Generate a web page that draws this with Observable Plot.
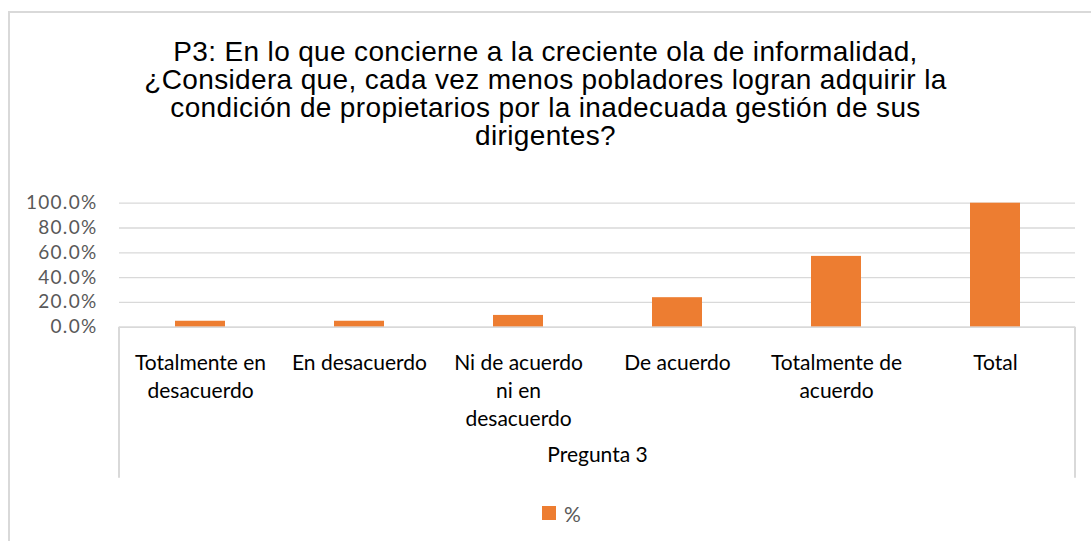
<!DOCTYPE html>
<html>
<head>
<meta charset="utf-8">
<script src="https://cdn.jsdelivr.net/npm/d3@7"></script>
<script src="https://cdn.jsdelivr.net/npm/@observablehq/plot@0.6"></script>
<style>
  html, body { margin: 0; padding: 0; background: #fff; }
  #wrap { position: relative; width: 1091px; height: 541px; overflow: hidden; }
  #border { position: absolute; left: 8px; top: 11px; width: 1100px; height: 600px;
            border-left: 2px solid #d9d9d9; border-top: 2px solid #d9d9d9; }
  #title { position: absolute; left: 0; top: 38px; width: 1091px; text-align: center;
           font-family: "Liberation Sans", Arial, sans-serif; font-size: 28px; line-height: 28px;
           letter-spacing: 0.35px; color: #000; }
  #chart { position: absolute; left: 0; top: 180px; }
  #legend { position: absolute; left: 542px; top: 500px; height: 26px; display: flex; align-items: center;
            font-family: Lato, sans-serif; font-size: 21px; color: #595959; }
  #legend .sw { width: 14px; height: 14px; background: #ED7D31; margin-right: 8px; }
  g[aria-label="y-axis tick label"] text { letter-spacing: 1.3px; }
</style>
</head>
<body>
<div id="wrap">
  <div id="border"></div>
  <div id="title"></div>
  <div id="chart"></div>
  <div id="legend"></div>
</div>
<script>
const titleLines = [
  "P3: En lo que concierne a la creciente ola de informalidad,",
  "¿Considera que, cada vez menos pobladores logran adquirir la",
  "condición de propietarios por la inadecuada gestión de sus",
  "dirigentes?"
];
const categories = ["Totalmente en desacuerdo", "En desacuerdo", "Ni de acuerdo ni en desacuerdo", "De acuerdo", "Totalmente de acuerdo", "Total"];
const categoryLabels = ["Totalmente en\ndesacuerdo", "En desacuerdo", "Ni de acuerdo\nni en\ndesacuerdo", "De acuerdo", "Totalmente de\nacuerdo", "Total"];
const values = [4.8, 4.8, 9.5, 23.8, 57.1, 100.0];
const yTicks = [0, 20, 40, 60, 80, 100];
const groupLabel = "Pregunta 3";
const seriesName = "%";

document.getElementById("title").innerHTML = titleLines.join("<br>");

const data = categories.map((c, i) => ({category: c, value: values[i]}));
const labelOf = new Map(categories.map((c, i) => [c, categoryLabels[i]]));

const W = 1091, H = 305;
const plot = Plot.plot({
  width: W,
  height: H,
  marginTop: 22.7,
  marginBottom: 158.3,
  marginLeft: 119,
  marginRight: 16,
  style: {background: "transparent", overflow: "visible"},
  x: {domain: categories, paddingInner: 0.686, paddingOuter: 0.343},
  y: {domain: [0, 100]},
  marks: [
    Plot.gridY(yTicks, {stroke: "#d9d9d9", strokeOpacity: 1, strokeWidth: 1.3}),
    Plot.barY(data, {x: "category", y: "value", fill: "#ED7D31"}),
    Plot.ruleY([0], {stroke: "#d9d9d9", strokeWidth: 1.5}),
    Plot.axisY(yTicks, {
      tickSize: 0, tickPadding: 22, fontSize: 19, fontFamily: "Lato, sans-serif",
      fill: "#595959", tickFormat: d => d.toFixed(1) + "%", label: null
    }),
    Plot.axisX({
      tickSize: 0, tickPadding: 23, fontSize: 21, fontFamily: "Lato, sans-serif",
      fill: "#000", lineHeight: 28 / 21, tickFormat: d => labelOf.get(d), label: null
    }),
    Plot.text([groupLabel], {
      frameAnchor: "bottom", dy: 135, fontSize: 21, fontFamily: "Lato, sans-serif", fill: "#000"
    })
  ]
});

// Category box side lines (drawn from the x scale's range)
const xs = plot.scale("x"), ysc = plot.scale("y");
const y0 = ysc.apply(0);
d3.select(plot).selectAll("line.edge")
  .data(xs.range)
  .join("line")
  .attr("x1", d => d).attr("x2", d => d)
  .attr("y1", y0).attr("y2", y0 + 151)
  .attr("stroke", "#d9d9d9").attr("stroke-width", 2);

document.getElementById("chart").appendChild(plot);

const lg = document.getElementById("legend");
lg.innerHTML = `<span class="sw"></span><span>${seriesName}</span>`;
</script>
</body>
</html>
